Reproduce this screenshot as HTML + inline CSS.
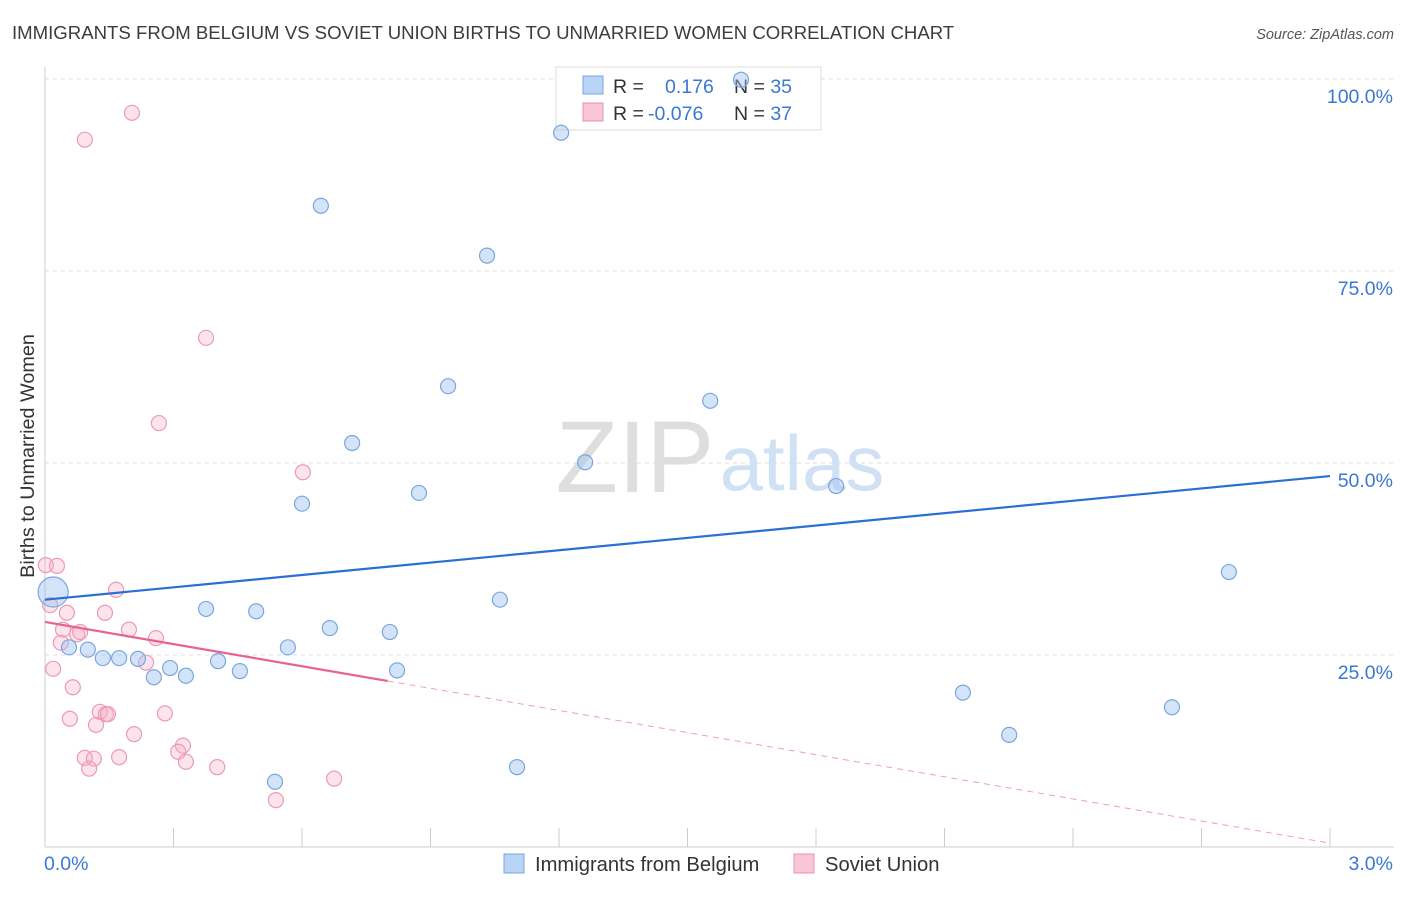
<!DOCTYPE html>
<html><head><meta charset="utf-8"><style>
body{margin:0;background:#fff;font-family:"Liberation Sans",sans-serif}
svg text{font-family:"Liberation Sans",sans-serif}
</style></head><body>
<svg width="1406" height="892" viewBox="0 0 1406 892">
<text x="12" y="39" font-size="18.6" fill="#3c3c3c">IMMIGRANTS FROM BELGIUM VS SOVIET UNION BIRTHS TO UNMARRIED WOMEN CORRELATION CHART</text>
<text x="1394" y="39" font-size="14.5" fill="#555" font-style="italic" text-anchor="end">Source: ZipAtlas.com</text>
<g id="grid"></g>
<text x="635" y="492" font-size="102" fill="#dedede" font-family="Liberation Serif" text-anchor="middle">ZIP</text>
<text x="802" y="490" font-size="78" fill="#d0e0f5" text-anchor="middle">atlas</text>
<text transform="translate(34,456) rotate(-90)" font-size="19.8" fill="#333" text-anchor="middle">Births to Unmarried Women</text>
<g>
<rect x="556" y="67" width="265" height="63" fill="#fff" stroke="#ddd"/>
<rect x="583" y="76" width="20" height="18" fill="#b8d3f4" stroke="#7aa6e0"/>
<rect x="583" y="103" width="20" height="18" fill="#f9c6d6" stroke="#e890ac"/>
<text x="613" y="93" font-size="19.5" fill="#333">R = <tspan fill="#3a78d4" x="665">0.176</tspan><tspan fill="#333" x="734">N = </tspan><tspan fill="#3a78d4">35</tspan></text>
<text x="613" y="120" font-size="19.5" fill="#333">R = <tspan fill="#3a78d4" x="648">-0.076</tspan><tspan fill="#333" x="734">N = </tspan><tspan fill="#3a78d4">37</tspan></text>
</g>
<g id="marks"></g>
<g>
<rect x="504" y="854" width="20" height="19" fill="#b8d3f4" stroke="#7aa6e0"/>
<text x="535" y="871" font-size="20.2" fill="#333">Immigrants from Belgium</text>
<rect x="794" y="854" width="20" height="19" fill="#f9c6d6" stroke="#e890ac"/>
<text x="825" y="871" font-size="20.2" fill="#333">Soviet Union</text>
</g>
</svg>
<script>
const blueX=[0.019,0.056,0.100,0.135,0.173,0.217,0.254,0.292,0.329,0.376,0.404,0.455,0.493,0.537,0.567,0.600,0.644,0.665,0.717,0.805,0.822,0.873,0.941,1.032,1.062,1.102,1.205,1.261,1.553,1.625,1.847,2.143,2.251,2.631,2.764];
const blueY=[33.2,26.0,25.7,24.6,24.6,24.5,22.1,23.3,22.3,31.0,24.2,22.9,30.7,8.5,26.0,44.7,83.5,28.5,52.6,28.0,23.0,46.1,60.0,77.0,32.2,10.4,93.0,50.1,58.1,99.9,47.0,20.1,14.6,18.2,35.8];
const pinkX=[0.002,0.028,0.012,0.019,0.051,0.042,0.037,0.075,0.082,0.065,0.058,0.119,0.128,0.142,0.147,0.140,0.166,0.093,0.203,0.093,0.114,0.103,0.173,0.208,0.196,0.236,0.259,0.280,0.266,0.322,0.311,0.329,0.376,0.402,0.539,0.602,0.675];
const pinkY=[36.7,36.6,31.5,23.2,30.5,28.3,26.6,27.7,28.0,20.8,16.7,15.9,17.6,17.3,17.3,30.5,33.5,92.1,95.6,11.6,11.5,10.2,11.7,14.7,28.3,24.0,27.2,17.4,55.2,13.2,12.4,11.1,66.3,10.4,6.1,48.8,8.9];
const blueTrend=[32.2,48.3];
const pinkTrend=[29.3,0.5];
const pinkSolidEnd=0.8;
const yTicks=[25,50,75,100];
const xTickLabels=["0.0%","3.0%"];
const X0=45,X1=1330,Y0=847,Y100=79;
const sx=v=>X0+(X1-X0)*v/3;
const sy=v=>Y0-(Y0-Y100)*v/100;
const NS="http://www.w3.org/2000/svg";
function mk(p,t,a){const e=document.createElementNS(NS,t);for(const k in a)e.setAttribute(k,a[k]);p.appendChild(e);return e;}
const grid=document.getElementById('grid'),marks=document.getElementById('marks');
yTicks.forEach(t=>{
 const l=mk(grid,'line',{x1:X0,x2:1394,y1:sy(t),y2:sy(t),stroke:'#dcdcdc','stroke-dasharray':'4,4'});
 
 
 const tx=mk(grid,'text',{x:1393,y:sy(t)+24,'font-size':19.5,fill:'#3a78d4','text-anchor':'end'});
 tx.textContent=t.toFixed(1)+'%';
 
 
});
let ax=mk(grid,'line',{x1:X0,x2:X0,y1:67,y2:Y0,stroke:'#ccc'});


ax=mk(grid,'line',{x1:X0,x2:1394,y1:Y0,y2:Y0,stroke:'#ccc'});


for(let i=1;i<=10;i++){
 const t=mk(grid,'line',{x1:sx(i*0.3),x2:sx(i*0.3),y1:828,y2:Y0,stroke:'#ccc'});
 
 
}
[[44,'start',0],[1393,'end',1]].forEach(([x,a,i])=>{
 const t=mk(grid,'text',{x:x,y:870,'font-size':19.5,fill:'#3a78d4','text-anchor':a});
 t.textContent=xTickLabels[i];
 
 
});
pinkX.forEach((x,i)=>{
 const c=mk(marks,'circle',{cx:sx(x),cy:sy(pinkY[i]),r:7.5,fill:'rgba(245,175,200,0.35)',stroke:'#ec9ab5','stroke-width':1.2});
 
 
});
blueX.forEach((x,i)=>{
 const c=mk(marks,'circle',{cx:sx(x),cy:sy(blueY[i]),r:i==0?15:7.5,fill:'rgba(160,196,240,0.45)',stroke:'#7aa6e0','stroke-width':1.2});
 
 
});
let tl=mk(marks,'line',{x1:sx(0),y1:sy(blueTrend[0]),x2:sx(3),y2:sy(blueTrend[1]),stroke:'#2a6fd6','stroke-width':2.2});


const py=v=>pinkTrend[0]+(pinkTrend[1]-pinkTrend[0])*v/3;
tl=mk(marks,'line',{x1:sx(0),y1:sy(py(0)),x2:sx(pinkSolidEnd),y2:sy(py(pinkSolidEnd)),stroke:'#e8628e','stroke-width':2.2});


tl=mk(marks,'line',{x1:sx(pinkSolidEnd),y1:sy(py(pinkSolidEnd)),x2:sx(3),y2:sy(py(3)),stroke:'#eba0b8','stroke-width':1,'stroke-dasharray':'6,5'});


</script>
</body></html>
